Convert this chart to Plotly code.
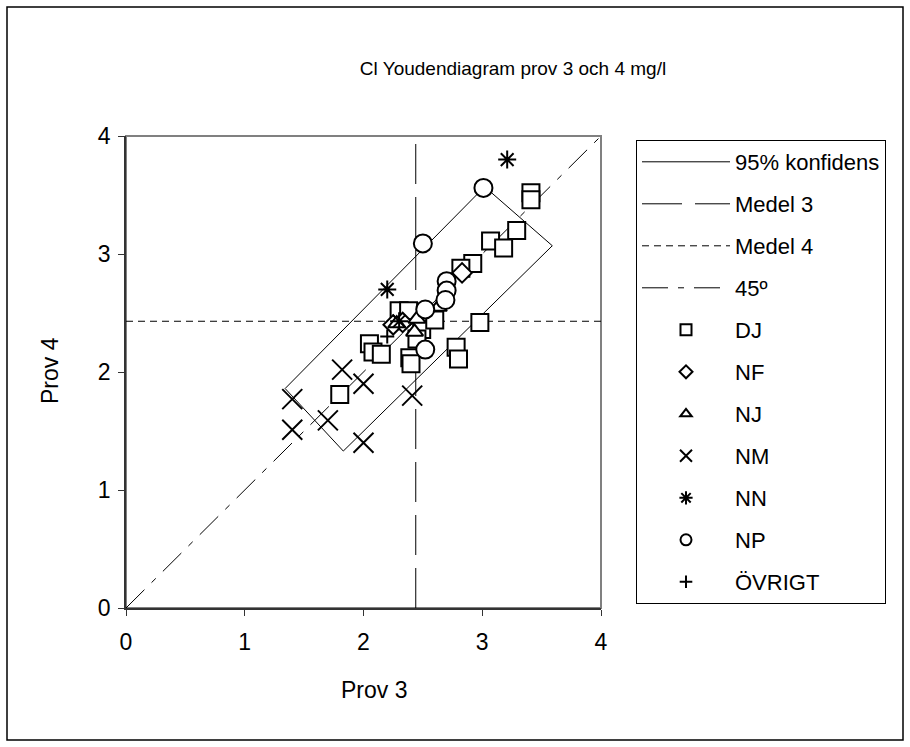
import plotly.graph_objects as go

# ---------------- data ----------------
title_text = "Cl Youdendiagram prov 3 och 4 mg/l"
x_title = "Prov 3"
y_title = "Prov 4"
tick_vals = [0, 1, 2, 3, 4]
tick_text = ["0", "1", "2", "3", "4"]
axis_range = [0, 4]

medel3 = 2.44
medel4 = 2.43

# 95% confidence box corners (Prov 3, Prov 4), closed
conf_x = [1.34, 3.02, 3.59, 1.83, 1.34]
conf_y = [1.86, 3.57, 3.07, 1.33, 1.86]

dj_x = [3.41, 3.41, 3.29, 3.07, 3.18, 2.92, 2.82, 2.98, 2.78, 2.80, 1.80, 2.39, 2.40,
        2.30, 2.38, 2.56, 2.49, 2.60, 2.05, 2.08, 2.15, 2.45]
dj_y = [3.52, 3.46, 3.20, 3.11, 3.05, 2.92, 2.88, 2.42, 2.21, 2.11, 1.81, 2.12, 2.07,
        2.52, 2.52, 2.47, 2.36, 2.44, 2.24, 2.17, 2.15, 2.28]

nf_x = [2.25, 2.33, 2.83]
nf_y = [2.40, 2.42, 2.84]

nj_x = [2.43, 2.45, 2.28, 2.63]
nj_y = [2.34, 2.45, 2.41, 2.55]

nm_x = [1.40, 1.40, 1.70, 1.82, 2.00, 2.00, 2.41]
nm_y = [1.77, 1.51, 1.59, 2.02, 1.90, 1.40, 1.80]

nn_x = [3.21, 2.20, 2.30]
nn_y = [3.80, 2.70, 2.43]

np_x = [2.50, 3.01, 2.52, 2.52, 2.70, 2.70, 2.69]
np_y = [3.09, 3.56, 2.53, 2.19, 2.77, 2.69, 2.61]

ov_x = [2.20]
ov_y = [2.30]

# ---------------- figure ----------------
W, H = 910, 747
FONT = "Liberation Sans, Arial, sans-serif"

fig = go.Figure()

fig.add_trace(go.Scatter(x=conf_x, y=conf_y, mode="lines", name="95% konfidens",
                         line=dict(color="black", width=1), legendgroup="a"))
fig.add_trace(go.Scatter(x=[medel3, medel3], y=axis_range, mode="lines", name="Medel 3",
                         line=dict(color="black", width=1, dash="40px,13px"), legendgroup="b"))
fig.add_trace(go.Scatter(x=axis_range, y=[medel4, medel4], mode="lines", name="Medel 4",
                         line=dict(color="black", width=1, dash="7px,5px"), legendgroup="c"))
fig.add_trace(go.Scatter(x=axis_range, y=axis_range, mode="lines", name="45º",
                         line=dict(color="black", width=1, dash="26px,10px,6px,10px"), legendgroup="d"))

def mk(x, y, name, symbol, size, legsize, filled=True, g="e"):
    if filled:
        marker = dict(symbol=symbol, size=size, color="white",
                      line=dict(color="black", width=2))
        lmarker = dict(symbol=symbol, size=legsize, color="white",
                       line=dict(color="black", width=2))
    else:
        marker = dict(symbol=symbol, size=size, color="black",
                      line=dict(color="black", width=2))
        lmarker = dict(symbol=symbol, size=legsize, color="black",
                       line=dict(color="black", width=2))
    fig.add_trace(go.Scatter(x=x, y=y, mode="markers", name=name, marker=marker,
                             legendgroup=g, showlegend=False))
    # legend entry with smaller symbol
    fig.add_trace(go.Scatter(x=[None], y=[None], mode="markers", name=name, marker=lmarker,
                             legendgroup=g, showlegend=True))

mk(dj_x, dj_y, "DJ", "square", 17, 11, g="e")
mk(nf_x, nf_y, "NF", "diamond", 15, 10, g="f")
mk(nj_x, nj_y, "NJ", "triangle-up", 15, 10, g="g")
mk(nm_x, nm_y, "NM", "x-thin-open", 20, 12, filled=False, g="h")
mk(nn_x, nn_y, "NN", "asterisk-open", 15, 11, filled=False, g="i")
mk(np_x, np_y, "NP", "circle", 18, 11, g="j")
mk(ov_x, ov_y, "ÖVRIGT", "cross-thin-open", 10, 9, filled=False, g="k")

# plot-area pixel box
L, R, T, B = 126, 601, 136, 608
dx0, dx1 = L / W, R / W
dy0, dy1 = (H - B) / H, (H - T) / H

axis_common = dict(range=axis_range, tickvals=tick_vals, ticktext=tick_text,
                   showgrid=False, zeroline=False, showline=True, linecolor="#333333",
                   linewidth=1.5, ticks="outside", ticklen=6, tickcolor="#333333",
                   tickfont=dict(family=FONT, size=23, color="black"), automargin=False,
                   fixedrange=True)

fig.update_layout(
    width=W, height=H,
    margin=dict(l=0, r=0, t=0, b=0),
    paper_bgcolor="white", plot_bgcolor="white",
    showlegend=True,
    xaxis=dict(domain=[dx0, dx1], ticklabelstandoff=7, **axis_common),
    yaxis=dict(domain=[dy0, dy1], ticklabelstandoff=3, **axis_common),
    title=dict(text=title_text, x=513 / W, xanchor="center", y=1 - 68 / H, yanchor="middle",
               font=dict(family=FONT, size=19, color="black")),
    legend=dict(x=636 / W, y=1 - 140 / H, xanchor="left", yanchor="top",
                bgcolor="white", bordercolor="black", borderwidth=1,
                font=dict(family=FONT, size=22, color="black"),
                itemwidth=88, itemsizing="trace", tracegroupgap=10.4,
                traceorder="grouped"),
    annotations=[
        dict(text=x_title, x=374 / W, y=1 - 690 / H, xref="paper", yref="paper",
             showarrow=False, xanchor="center", yanchor="middle",
             font=dict(family=FONT, size=23, color="black")),
        dict(text=y_title, x=50 / W, y=1 - 371 / H, xref="paper", yref="paper",
             showarrow=False, xanchor="center", yanchor="middle", textangle=-90,
             font=dict(family=FONT, size=23, color="black")),
    ],
    shapes=[
        dict(type="rect", xref="paper", yref="paper", x0=7 / W, x1=903 / W,
             y0=1 - 740 / H, y1=1 - 7 / H, line=dict(color="black", width=1.5),
             layer="below"),
        dict(type="rect", xref="paper", yref="paper", x0=dx0, x1=dx1, y0=dy0, y1=dy1,
             line=dict(color="#808080", width=2), layer="below"),
    ],
)

fig.write_html("out.html")
